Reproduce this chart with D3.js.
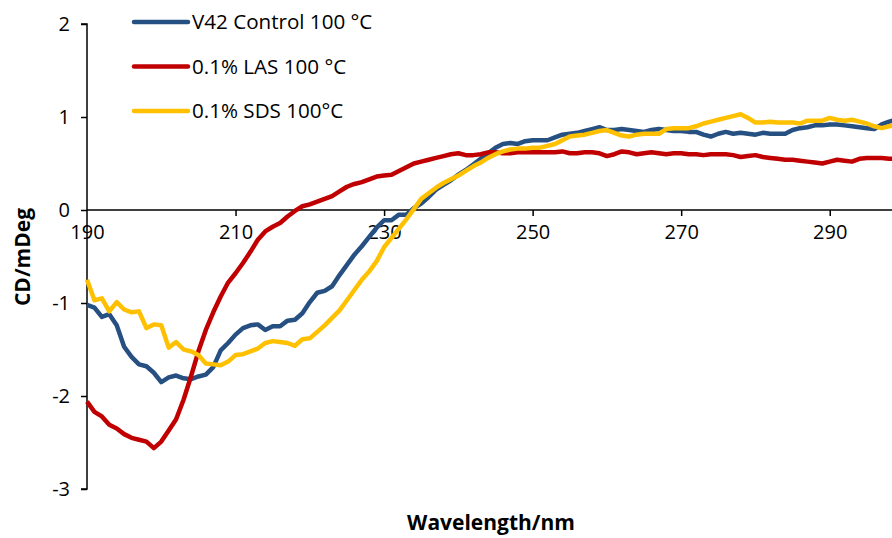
<!DOCTYPE html>
<html><head><meta charset="utf-8">
<script src="https://cdn.jsdelivr.net/npm/d3@7"></script>
<style>
html,body{margin:0;padding:0;background:#fff;overflow:hidden}
text{font-family:"Open Sans",Lato,sans-serif}
</style></head>
<body>
<svg id="chart" width="892" height="538"></svg>
<script>
const wavelengthStart = 190;
const seriesNames = ["V42 Control 100 °C", "0.1% LAS 100 °C", "0.1% SDS 100°C"];
const seriesColors = ["#264f82", "#c00000", "#ffc000"];
const xTickValues = [190, 210, 230, 250, 270, 290];
const yTickValues = [-3, -2, -1, 0, 1, 2];

// 1 nm steps from 190 nm
const control = [
 -1.02,-1.05,-1.15,-1.12,-1.24,-1.47,-1.58,-1.66,-1.68,-1.75,
 -1.85,-1.80,-1.78,-1.81,-1.82,-1.79,-1.77,-1.69,-1.51,-1.43,
 -1.34,-1.27,-1.24,-1.23,-1.29,-1.25,-1.25,-1.19,-1.18,-1.11,
 -0.99,-0.89,-0.87,-0.82,-0.70,-0.59,-0.48,-0.39,-0.29,-0.19,
 -0.11,-0.11,-0.05,-0.05,0.02,0.07,0.14,0.22,0.27,0.32,
 0.38,0.43,0.49,0.55,0.61,0.67,0.71,0.72,0.71,0.74,
 0.75,0.75,0.75,0.78,0.81,0.82,0.83,0.85,0.87,0.89,
 0.86,0.86,0.87,0.86,0.85,0.84,0.86,0.87,0.86,0.85,
 0.85,0.84,0.84,0.81,0.79,0.82,0.84,0.82,0.83,0.82,
 0.81,0.83,0.82,0.82,0.82,0.86,0.88,0.89,0.91,0.91,
 0.92,0.92,0.91,0.90,0.89,0.88,0.87,0.92,0.95,0.97,0.98
];
const las = [
 -2.06,-2.17,-2.22,-2.31,-2.35,-2.41,-2.45,-2.47,-2.49,-2.56,
 -2.49,-2.37,-2.25,-2.04,-1.79,-1.52,-1.29,-1.10,-0.93,-0.78,
 -0.68,-0.57,-0.45,-0.32,-0.23,-0.18,-0.14,-0.07,-0.01,0.04,
 0.06,0.09,0.12,0.15,0.20,0.25,0.28,0.30,0.33,0.36,
 0.37,0.38,0.42,0.46,0.50,0.52,0.54,0.56,0.58,0.60,
 0.61,0.59,0.59,0.60,0.62,0.62,0.61,0.61,0.62,0.62,
 0.62,0.62,0.62,0.62,0.63,0.61,0.61,0.62,0.62,0.61,
 0.58,0.60,0.63,0.62,0.60,0.61,0.62,0.61,0.60,0.61,
 0.61,0.60,0.60,0.59,0.60,0.60,0.60,0.59,0.57,0.58,
 0.59,0.57,0.56,0.55,0.54,0.54,0.53,0.52,0.51,0.50,
 0.52,0.54,0.53,0.52,0.55,0.56,0.56,0.56,0.55,0.55,0.55
];
const sds = [
 -0.75,-0.97,-0.95,-1.09,-0.99,-1.07,-1.10,-1.09,-1.27,-1.23,
 -1.24,-1.48,-1.42,-1.50,-1.52,-1.56,-1.65,-1.66,-1.67,-1.63,
 -1.56,-1.55,-1.52,-1.49,-1.43,-1.41,-1.42,-1.43,-1.46,-1.39,
 -1.38,-1.31,-1.24,-1.16,-1.08,-0.97,-0.86,-0.75,-0.66,-0.55,
 -0.40,-0.30,-0.20,-0.10,0.01,0.12,0.18,0.24,0.29,0.33,
 0.37,0.42,0.47,0.51,0.56,0.60,0.63,0.65,0.66,0.66,
 0.67,0.67,0.69,0.71,0.75,0.79,0.80,0.81,0.83,0.85,
 0.86,0.83,0.80,0.79,0.81,0.82,0.82,0.82,0.87,0.88,
 0.88,0.88,0.90,0.93,0.95,0.97,0.99,1.01,1.03,0.99,
 0.94,0.94,0.95,0.94,0.94,0.94,0.93,0.96,0.96,0.96,
 0.99,0.97,0.96,0.97,0.95,0.93,0.90,0.88,0.90,0.92,0.93
];
const seriesValues = [control, las, sds];

const svg = d3.select("#chart");
const x = d3.scaleLinear().domain([190, 300]).range([87, 904]);
const y = d3.scaleLinear().domain([-3, 2]).range([489, 24]);

// y axis
const yAxis = svg.append("g").attr("transform", `translate(${x(190)},0)`)
  .call(d3.axisLeft(y).tickValues(yTickValues).tickSize(6).tickPadding(11).tickFormat(d3.format("d")));
yAxis.select(".domain").attr("stroke", "#000").attr("stroke-width", 1.5).attr("d", `M-6,${y(2)}H0V${y(-3)}H-6`);
yAxis.selectAll(".tick line").attr("stroke", "#000").attr("stroke-width", 1.5);
yAxis.selectAll(".tick text").attr("font-size", 20).attr("fill", "#000")
  .text(d => d < 0 ? "-" + Math.abs(d) : d);

// x axis at y=0
const xAxis = svg.append("g").attr("transform", `translate(0,${y(0)})`)
  .call(d3.axisBottom(x).tickValues(xTickValues).tickSize(6).tickPadding(9).tickFormat(d3.format("d")));
xAxis.select(".domain").attr("stroke", "#000").attr("stroke-width", 1.5).attr("d", `M${x(190)},0H${x(300)}`);
xAxis.selectAll(".tick line").attr("stroke", "#000").attr("stroke-width", 1.5)
  .attr("display", d => d === 190 ? "none" : null);
xAxis.selectAll(".tick text").attr("font-size", 20).attr("fill", "#000");

// lines
const line = d3.line()
  .x((d, i) => x(wavelengthStart + i))
  .y(d => y(d));
svg.append("g").selectAll("path.series").data(seriesValues).join("path")
  .attr("class", "series")
  .attr("d", line)
  .attr("fill", "none")
  .attr("stroke", (d, i) => seriesColors[i])
  .attr("stroke-width", 4.5)
  .attr("stroke-linejoin", "round");

// legend
const legend = svg.append("g");
const legendY = d3.scalePoint().domain(seriesNames).range([22, 111]);
seriesNames.forEach((name, i) => {
  legend.append("line").attr("x1", 134).attr("x2", 188)
    .attr("y1", legendY(name)).attr("y2", legendY(name))
    .attr("stroke", seriesColors[i]).attr("stroke-width", 4.5).attr("stroke-linecap", "round");
  legend.append("text").attr("x", 192).attr("y", legendY(name)).attr("dy", "0.36em")
    .attr("font-size", 20.6).attr("fill", "#000").text(name);
});

// axis titles
svg.append("text").attr("x", 491).attr("y", 530).attr("text-anchor", "middle")
  .attr("font-size", 21).attr("font-weight", "bold").attr("fill", "#000").text("Wavelength/nm");
svg.append("text").attr("transform", `translate(30,257) rotate(-90)`).attr("text-anchor", "middle")
  .attr("font-size", 21).attr("font-weight", "bold").attr("fill", "#000").text("CD/mDeg");
</script>
</body></html>
